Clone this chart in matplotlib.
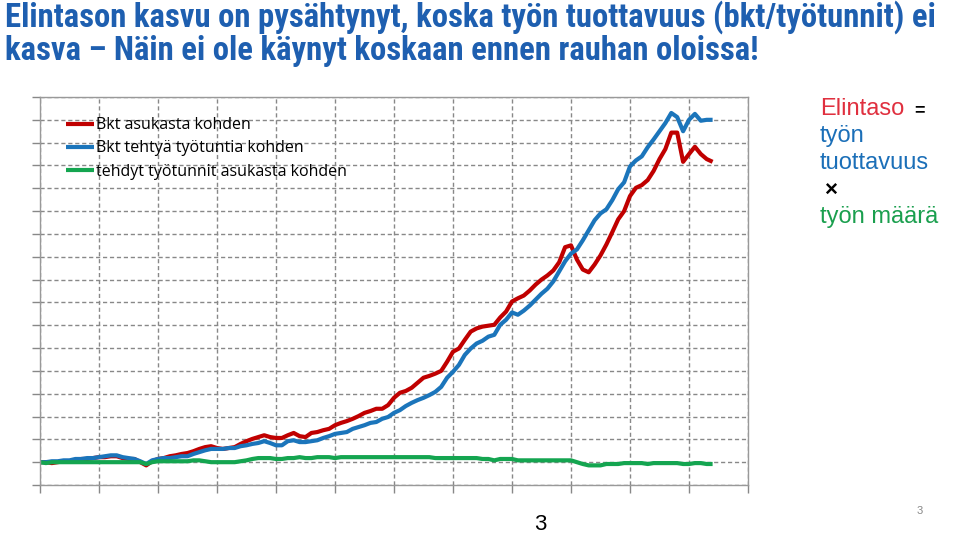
import matplotlib
matplotlib.use("Agg")
import matplotlib.pyplot as plt
import numpy as np

years = list(range(1900, 2015))

gdp_per_capita = [
    100, 100, 98, 100, 102, 102, 104, 107, 107, 109,
    111, 111, 113, 113, 109, 107, 107, 100, 93, 102,
    107, 109, 113, 115, 118, 120, 124, 129, 133, 135,
    131, 129, 131, 133, 140, 146, 151, 155, 159, 155,
    153, 153, 159, 164, 157, 155, 164, 166, 170, 173,
    181, 186, 190, 195, 201, 208, 212, 217, 217, 225,
    241, 252, 256, 263, 274, 285, 289, 294, 300, 320,
    342, 349, 368, 386, 393, 397, 399, 401, 417, 430,
    452, 459, 465, 476, 489, 500, 509, 520, 538, 571,
    575, 544, 522, 516, 533, 553, 577, 604, 632, 650,
    683, 701, 707, 718, 738, 764, 786, 822, 822, 758,
    775, 791, 775, 764, 758]

gdp_per_hour = [
    100, 100, 102, 102, 104, 104, 107, 107, 109, 109,
    111, 113, 115, 115, 111, 109, 107, 102, 96, 104,
    107, 109, 109, 111, 113, 113, 118, 122, 126, 129,
    129, 129, 131, 131, 135, 137, 140, 142, 146, 142,
    137, 137, 146, 148, 144, 144, 146, 148, 153, 157,
    162, 164, 166, 173, 177, 181, 186, 188, 195, 199,
    208, 214, 223, 230, 236, 241, 247, 254, 265, 285,
    298, 313, 335, 349, 360, 366, 375, 379, 401, 412,
    428, 423, 432, 443, 456, 469, 480, 496, 518, 540,
    557, 566, 586, 608, 630, 645, 654, 674, 698, 713,
    748, 761, 770, 790, 807, 825, 843, 865, 856, 825,
    850, 863, 848, 850, 850]

hours_per_capita = [
    100, 98, 100, 100, 100, 100, 100, 100, 100, 100,
    100, 100, 100, 100, 100, 100, 100, 100, 96, 100,
    102, 102, 102, 102, 102, 102, 104, 104, 102, 100,
    100, 100, 100, 100, 102, 104, 107, 109, 109, 109,
    107, 107, 109, 109, 111, 109, 109, 111, 111, 111,
    109, 111, 111, 111, 111, 111, 111, 111, 111, 111,
    111, 111, 111, 111, 111, 111, 111, 109, 109, 109,
    109, 109, 109, 109, 109, 107, 107, 104, 107, 107,
    107, 104, 104, 104, 104, 104, 104, 104, 104, 104,
    104, 100, 96, 93, 93, 93, 96, 96, 96, 98,
    98, 98, 98, 96, 98, 98, 98, 98, 98, 96,
    96, 98, 98, 96, 96]

legend_labels = ["Bkt asukasta kohden",
                 "Bkt tehtyä työtuntia kohden",
                 "tehdyt työtunnit asukasta kohden"]
line_colors = ["#C00000", "#1B75BB", "#14A550"]

fig = plt.figure(figsize=(9.6, 5.34), dpi=100)
ax = fig.add_axes([40/960, 1-485/534, 708/960, 388/534])

for vals, lab, col in zip([gdp_per_capita, gdp_per_hour, hours_per_capita], legend_labels, line_colors):
    ax.plot(years, vals, color=col, lw=3.0, label=lab, solid_capstyle="butt", solid_joinstyle="round")

ax.set_xlim(1900, 2020)
ax.set_ylim(50, 900)
ax.set_xticks(np.arange(1900, 2021, 10))
ax.set_yticks(np.arange(50, 901, 50))
ax.set_xticklabels([])
ax.set_yticklabels([])
ax.grid(True, color="#888888", linestyle=(0, (3, 2)), linewidth=1.0)
ax.tick_params(axis="both", direction="out", length=6, color="#888888", width=1.0)
for s in ax.spines.values():
    s.set_color("#999999")
    s.set_linewidth(1.0)

leg = ax.legend(loc="upper left", bbox_to_anchor=(0.017, 0.985), frameon=False,
                handlelength=1.75, handletextpad=0.1, labelspacing=0.45,
                prop={"family": ["Open Sans", "DejaVu Sans"], "size": 11.5})

title_font = ["Roboto Condensed", "Liberation Sans Narrow", "Roboto", "DejaVu Sans"]
fig.text(5/960, 1-17/534, "Elintason kasvu on pysähtynyt, koska työn tuottavuus (bkt/työtunnit) ei",
         fontsize=23.6, fontweight="bold", color="#1E5FB0", family=title_font, va="center", ha="left")
fig.text(5/960, 1-51/534, "kasva – Näin ei ole käynyt koskaan ennen rauhan oloissa!",
         fontsize=23.6, fontweight="bold", color="#1E5FB0", family=title_font, va="center", ha="left")

rf = ["Liberation Sans", "DejaVu Sans"]
fig.text(820/960, 1-109/534, "Elintaso", fontsize=17, color="#E0303F", family=rf, va="center", ha="left")
fig.text(914/960, 1-111/534, "=", fontsize=13, color="black", family=rf, va="center", ha="left", fontweight="bold")
fig.text(820/960, 1-136/534, "työn", fontsize=17, color="#1B6FB8", family=rf, va="center", ha="left")
fig.text(820/960, 1-163/534, "tuottavuus", fontsize=17, color="#1B6FB8", family=rf, va="center", ha="left")
fig.text(824/960, 1-190/534, "×", fontsize=16, color="black", family=rf, va="center", ha="left", fontweight="bold")
fig.text(820/960, 1-217/534, "työn määrä", fontsize=17, color="#1A9F4E", family=rf, va="center", ha="left")

fig.text(540/960, 1-525/534, "3", fontsize=16, color="black", family=rf, va="center", ha="center")
fig.text(920/960, 1-511/534, "3", fontsize=8, color="#888888", family=rf, va="center", ha="center")

fig.savefig("out.png", dpi=100)
